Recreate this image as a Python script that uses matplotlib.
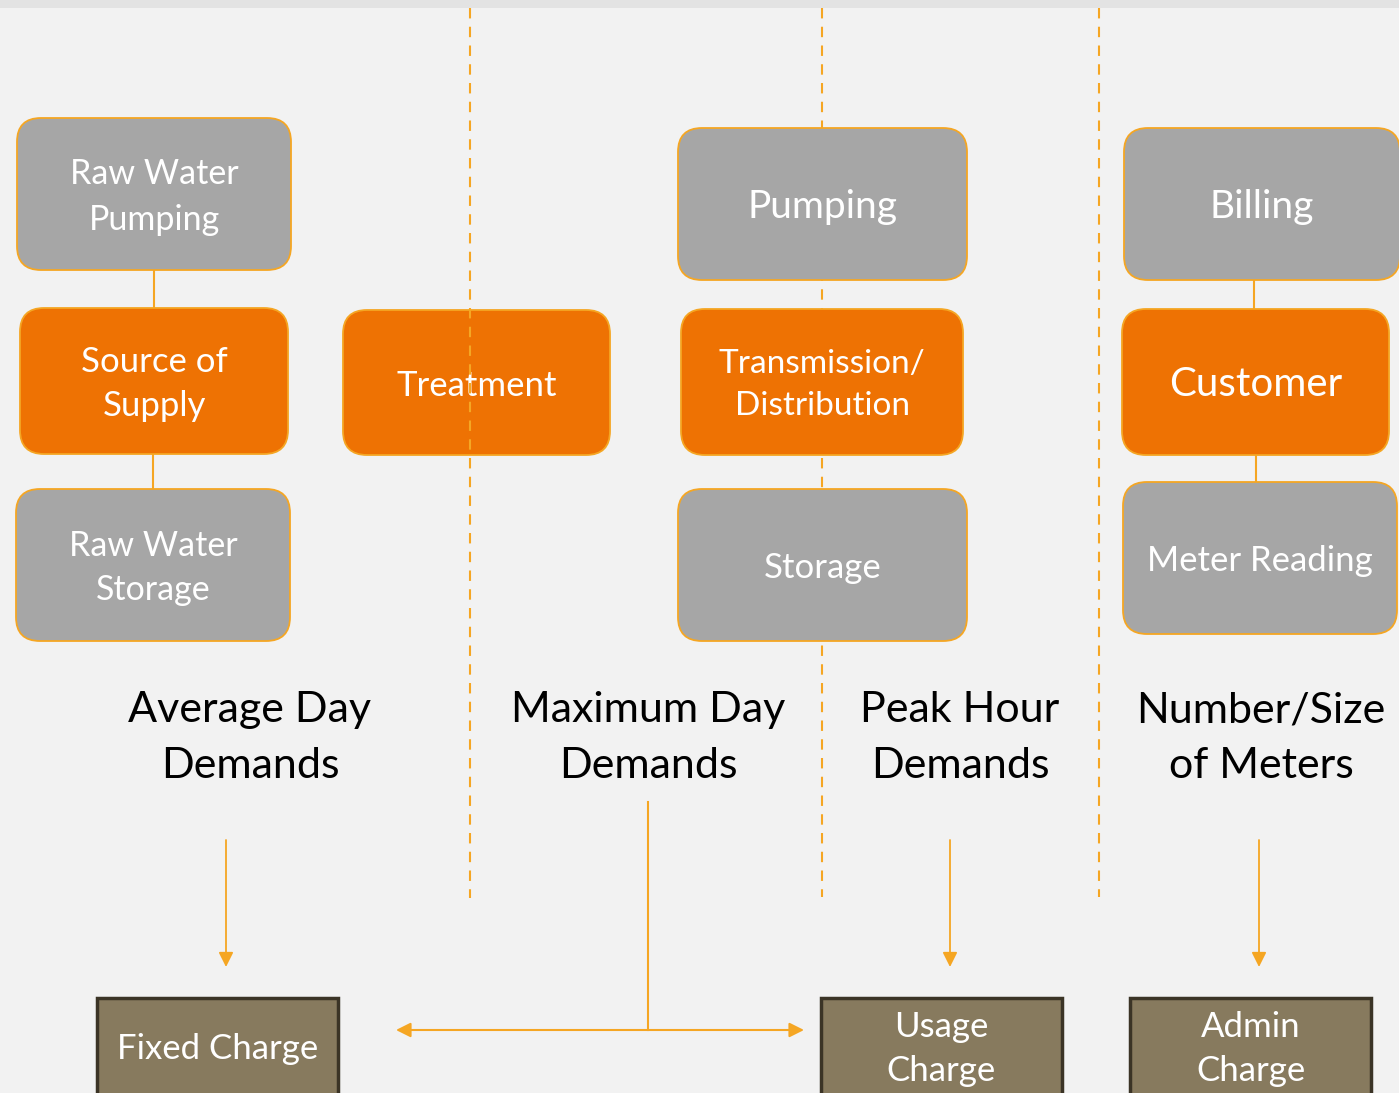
import matplotlib
matplotlib.use('Agg')
import matplotlib.pyplot as plt
from matplotlib.patches import FancyBboxPatch, Rectangle

plt.rcParams['font.family'] = ['Lato', 'DejaVu Sans']

# boxes: label, x0, y0, x1, y1, kind, fontsize
box_labels = ['Raw Water\nPumping', 'Source of\nSupply', 'Raw Water\nStorage', 'Treatment',
              'Pumping', 'Transmission/\nDistribution', 'Storage',
              'Billing', 'Customer', 'Meter Reading']
box_x0 = [17, 20, 16, 343, 678, 681, 678, 1124, 1122, 1123]
box_y0 = [118, 308, 489, 310, 128, 309, 489, 128, 309, 482]
box_x1 = [291, 288, 290, 610, 967, 963, 967, 1400, 1389, 1397]
box_y1 = [270, 454, 641, 455, 280, 455, 641, 280, 455, 634]
box_kind = ['gray', 'orange', 'gray', 'orange', 'gray', 'orange', 'gray', 'gray', 'orange', 'gray']
box_size = [24.5, 25, 24.5, 25, 28, 24, 25, 28, 29, 25]

# demand headings
demand_labels = ['Average Day\nDemands', 'Maximum Day\nDemands', 'Peak Hour\nDemands', 'Number/Size\nof Meters']
demand_x = [250, 648, 960, 1261]

# charge boxes
charge_labels = ['Fixed Charge', 'Usage\nCharge', 'Admin\nCharge']
charge_x0 = [97, 821, 1130]
charge_x1 = [338, 1062, 1371]

fill = {'gray': '#A6A6A6', 'orange': '#EE7203'}
edge = '#F5A623'

fig = plt.figure(figsize=(13.99, 10.93), dpi=100)
fig.patch.set_facecolor('#F2F2F2')
ax = fig.add_axes([0, 0, 1, 1])
ax.set_xlim(0, 1399)
ax.set_ylim(1093, 0)
ax.axis('off')

# top band
ax.add_patch(Rectangle((0, 0), 1399, 8, facecolor='#E3E3E3', edgecolor='none', zorder=0))

# dashed separators
ax.plot([470, 470], [8, 898], ls=(0, (5, 4)), color=edge, lw=1.5, zorder=5)
ax.plot([822, 822], [8, 897], ls=(0, (5, 4)), color=edge, lw=1.5, zorder=1)
ax.plot([1099, 1099], [8, 897], ls=(0, (5, 4)), color=edge, lw=1.5, zorder=1)

# connectors between stacked boxes
for x, ya, yb in [(154, 270, 308), (153, 454, 489), (1254, 280, 309), (1256, 455, 482)]:
    ax.plot([x, x], [ya, yb], color=edge, lw=1.5, zorder=1)

for lab, x0, y0, x1, y1, k, fs in zip(box_labels, box_x0, box_y0, box_x1, box_y1, box_kind, box_size):
    ax.add_patch(FancyBboxPatch((x0, y0), x1 - x0, y1 - y0,
                                boxstyle='round,pad=0,rounding_size=24',
                                facecolor=fill[k], edgecolor=edge, lw=1.3, zorder=2))
    ax.text((x0 + x1) / 2, (y0 + y1) / 2 + 3, lab, ha='center', va='center',
            color='white', fontsize=fs, linespacing=1.5, zorder=3)

for lab, x in zip(demand_labels, demand_x):
    ax.text(x, 738, lab, ha='center', va='center', color='black', fontsize=31,
            linespacing=1.55, zorder=3)

# arrows down to charges
for x in [226, 950, 1259]:
    ax.annotate('', xy=(x, 967), xytext=(x, 840),
                arrowprops=dict(arrowstyle='-|>', color='#F5A623', lw=1.3,
                                mutation_scale=22, shrinkA=0, shrinkB=0))
ax.plot([648, 648], [802, 1030], color=edge, lw=1.5, zorder=1)
ax.annotate('', xy=(396, 1030), xytext=(804, 1030),
            arrowprops=dict(arrowstyle='<|-|>', color='#F5A623', lw=1.5,
                            mutation_scale=22, shrinkA=0, shrinkB=0))

for lab, x0, x1 in zip(charge_labels, charge_x0, charge_x1):
    ax.add_patch(Rectangle((x0, 998), x1 - x0, 120, facecolor='#877A5E',
                           edgecolor='#3B3426', lw=2.5, zorder=2))
    ax.text((x0 + x1) / 2, 1049, lab, ha='center', va='center', color='white',
            fontsize=25, linespacing=1.45, zorder=3)

fig.savefig('out.png', dpi=100, facecolor=fig.get_facecolor())
